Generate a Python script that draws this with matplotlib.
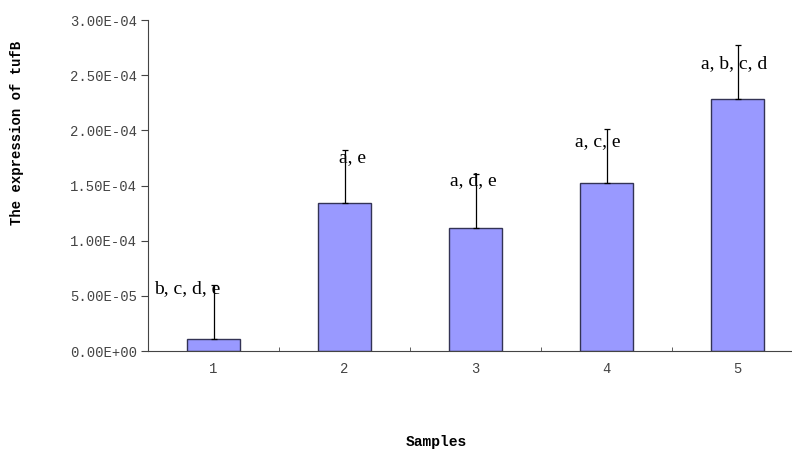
import numpy as np
import matplotlib
matplotlib.use("Agg")
import matplotlib.pyplot as plt

# data
samples = ["1", "2", "3", "4", "5"]
expression = [1.05e-5, 1.34e-4, 1.115e-4, 1.52e-4, 2.28e-4]
err_upper = [4.95e-5, 4.8e-5, 4.9e-5, 4.9e-5, 4.9e-5]
letters = ["b, c, d, e", "a, e", "a, d, e", "a, c, e", "a, b, c, d"]
yticks = [0, 5e-5, 1e-4, 1.5e-4, 2e-4, 2.5e-4, 3e-4]
ytick_labels = ["0.00E+00", "5.00E-05", "1.00E-04", "1.50E-04",
                "2.00E-04", "2.50E-04", "3.00E-04"]

# where the letters sit (baseline, as placed in the original)
label_base = [5.25e-5, 1.71e-4, 1.505e-4, 1.86e-4, 2.56e-4]
label_dx = [-0.2, 0.06, -0.015, -0.07, -0.025]

fig = plt.figure(figsize=(7.92, 4.51), dpi=100)
ax = fig.add_axes([0.1869, 0.2217, 0.827, 0.7339])

x = np.arange(1, len(samples) + 1)
ax.bar(x, expression, width=0.4, color="#9999ff", edgecolor="#333355", linewidth=1, zorder=2)
ax.errorbar(x, expression, yerr=[np.zeros(len(x)), err_upper], fmt="none",
            ecolor="black", elinewidth=0.9, capsize=2, capthick=0.9, zorder=3)

for xi, lab, yb, dx in zip(x, letters, label_base, label_dx):
    ax.text(xi + dx, yb, lab, ha="center", va="baseline",
            fontsize=14, family="Liberation Serif", zorder=4)

ax.set_xlim(0.5, 5.5)
ax.set_ylim(0, 3e-4)
ax.set_yticks(yticks)
ax.set_yticklabels(ytick_labels, family="Liberation Mono", fontsize=10, color="#444444")
ax.set_xticks(x)
ax.set_xticklabels(samples, family="Liberation Mono", fontsize=10, color="#444444")
ax.set_xticks(np.arange(1.5, 5.5, 1), minor=True)
ax.tick_params(axis="x", which="major", length=0, pad=8)
ax.tick_params(axis="x", which="minor", direction="in", length=3, color="#444444")
ax.tick_params(axis="y", direction="out", length=5, color="#444444", pad=3)

for side in ["top", "right"]:
    ax.spines[side].set_visible(False)
ax.spines["left"].set_color("#444444")
ax.spines["bottom"].set_color("#444444")

fig.text(0.551, 0.02, "Samples", ha="center", va="center",
         family="Liberation Mono", fontweight="bold", fontsize=10.5)
fig.text(0.022, 0.705, "The expression of tufB", ha="center", va="center", rotation=90,
         family="Liberation Mono", fontweight="bold", fontsize=10)

fig.savefig("out.png", dpi=100)
